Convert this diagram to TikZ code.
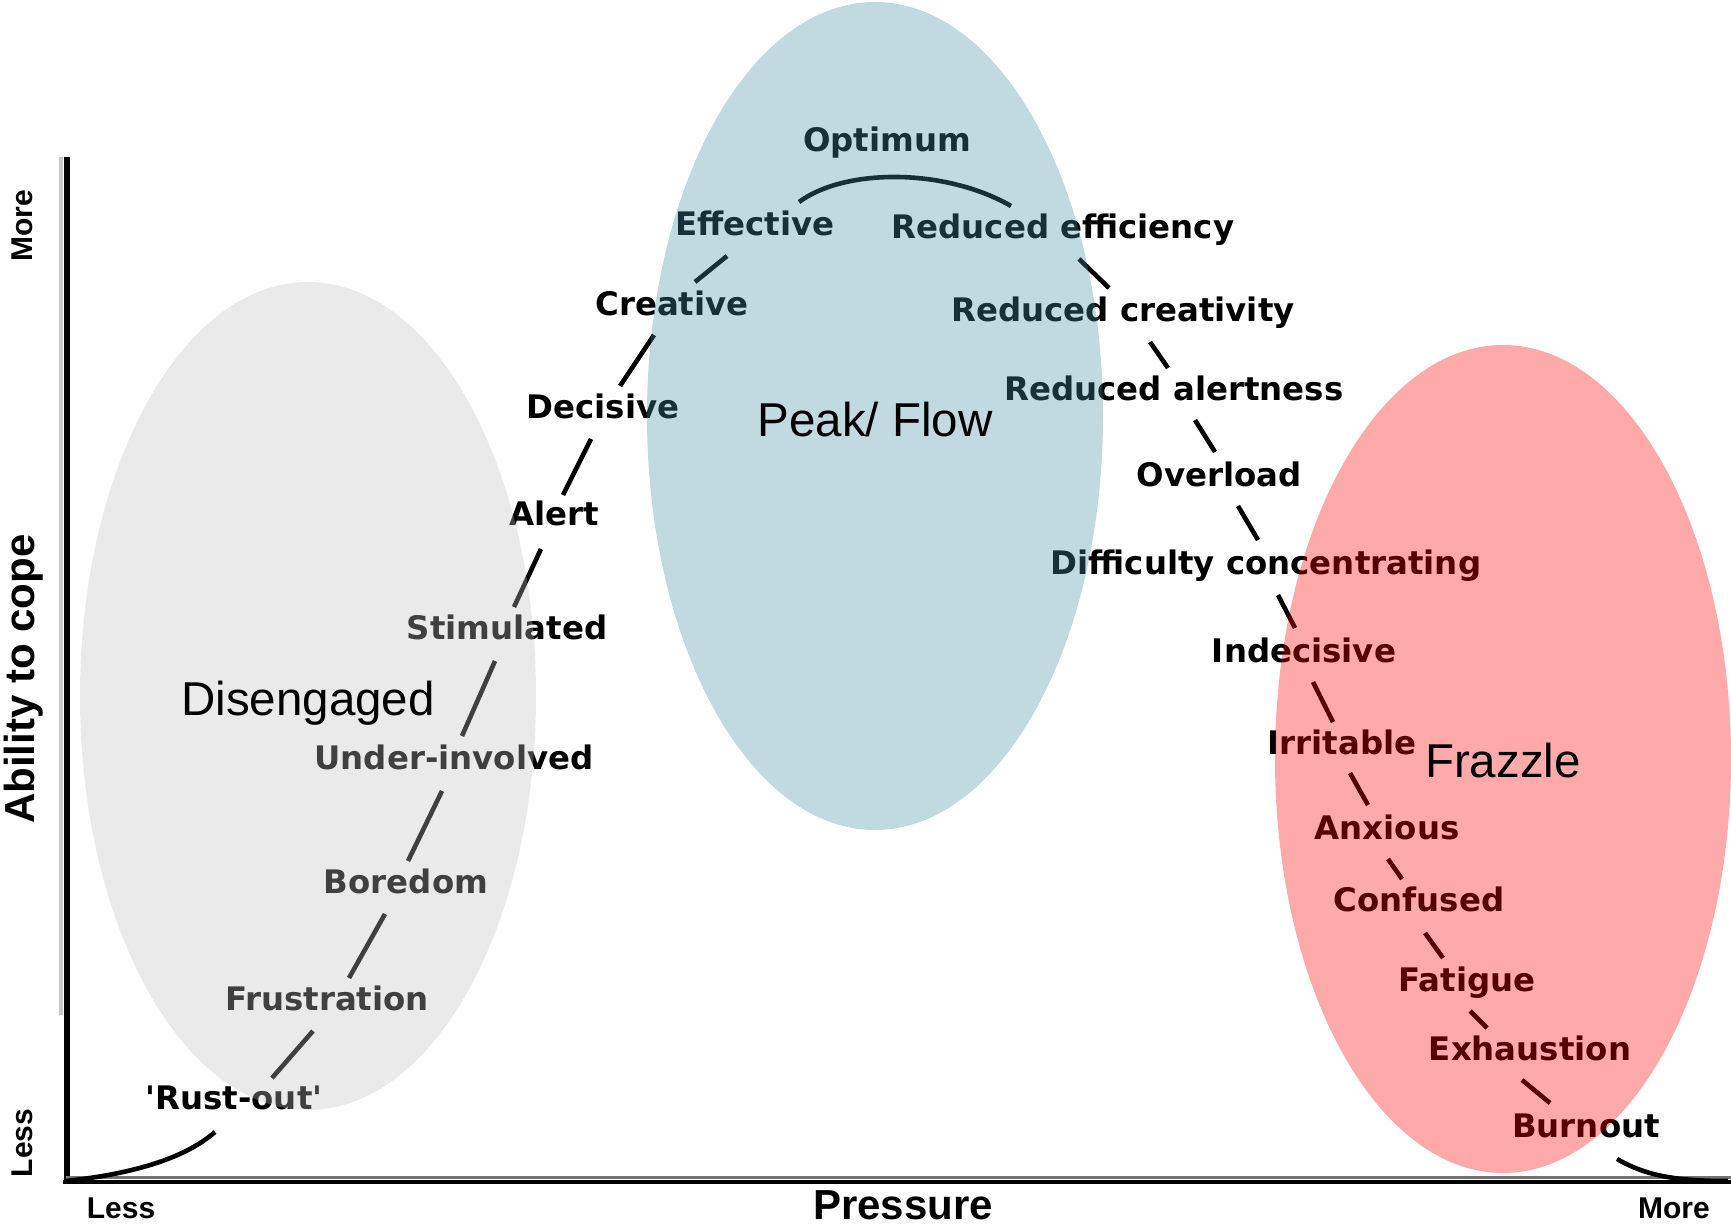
\documentclass[tikz,border=0pt]{standalone}
\usepackage{fontspec}
\newfontfamily\labfnt{DejaVu Sans}
\newfontfamily\bigfnt{Liberation Sans}
\definecolor{pinkc}{RGB}{252,0,0}
\definecolor{bluec}{RGB}{66,144,162}
\definecolor{grayc}{RGB}{192,192,192}
\definecolor{shadow}{RGB}{200,200,200}
\tikzset{
  lbl/.style={font=\labfnt\bfseries\fontsize{16.2}{18}\selectfont, inner sep=0pt, text height=11.8pt, text depth=0pt, text=black},
  zone/.style={font=\bigfnt\fontsize{23.75}{26}\selectfont, inner sep=0pt, text height=17pt, text depth=0pt, text=black},
  axtitle/.style={font=\bigfnt\bfseries\fontsize{21}{24}\selectfont, inner sep=0pt, text height=15pt, text depth=0pt},
  axend/.style={font=\bigfnt\bfseries\fontsize{15}{17}\selectfont, inner sep=0pt, text height=10.7pt, text depth=0pt},
  seg/.style={line width=2.3pt, black},
  blob/.style={fill opacity=0.333}
}
\begin{document}
\begin{tikzpicture}[x=0.5pt,y=-0.5pt]
\useasboundingbox (0,0) rectangle (1731,1225);
\fill[white] (0,0) rectangle (1731,1225);
% axes
\draw[shadow, line width=1.6pt] (61,157) -- (61,1015);
\draw[line width=3pt] (66.5,157) -- (66.5,1183);
\draw[line width=2pt] (63,1182) -- (1731,1182);
\draw[black!55, line width=1.5pt] (66,1177.5) -- (1731,1177.5);
% axis labels
\node[axend, rotate=90] (moreY) at (22,226) {More};
\node[axend, rotate=90] (lessY) at (22,1143) {Less};
\node[axtitle, rotate=90] (ability) at (19,679) {Ability to cope};
\node[axend] (lessX) at (121,1208) {Less};
\node[axend] (moreX) at (1674,1208) {More};
\node[axtitle] (press) at (903,1204) {Pressure};
% labels
\node[lbl] (opt) at (887,140) {Optimum};
\node[lbl] (eff) at (755,224) {Effective};
\node[lbl] (reff) at (1063,227) {Reduced efficiency};
\node[lbl] (cre) at (672,304) {Creative};
\node[lbl] (rcre) at (1123,310) {Reduced creativity};
\node[lbl] (dec) at (603,407) {Decisive};
\node[lbl] (ralert) at (1174,389) {Reduced alertness};
\node[lbl] (alert) at (554,514) {Alert};
\node[lbl] (over) at (1219,475) {Overload};
\node[lbl] (stim) at (507,628) {Stimulated};
\node[lbl] (diff) at (1266,563) {Difficulty concentrating};
\node[lbl] (indec) at (1304,651) {Indecisive};
\node[lbl] (under) at (454,758) {Under-involved};
\node[lbl] (irr) at (1342,743) {Irritable};
\node[lbl] (anx) at (1387,828) {Anxious};
\node[lbl] (bore) at (406,882) {Boredom};
\node[lbl] (conf) at (1419,900) {Confused};
\node[lbl] (frus) at (327,999) {Frustration};
\node[lbl] (fat) at (1467,980) {Fatigue};
\node[lbl] (exh) at (1530,1049) {Exhaustion};
\node[lbl] (rust) at (234,1098) {\textquotesingle Rust-out\textquotesingle};
\node[lbl] (burn) at (1586,1126) {Burnout};
% curve segments
\draw[line width=2.3pt] (66,1181) .. controls (150,1172) and (192,1152) .. (215,1132);
\draw[seg] (313,1031) -- (272,1078);
\draw[seg] (385,914) -- (349,978);
\draw[seg] (442,791) -- (408,861);
\draw[seg] (495,661) -- (462,736);
\draw[seg] (541,549) -- (514,607);
\draw[seg] (591,439) -- (563,495);
\draw[seg] (654,335) -- (620,386);
\draw[seg] (727,256) -- (695,282);
\draw[line width=2.3pt] (799,202) .. controls (845,168) and (945,168) .. (1011,206);
\draw[seg] (1079,259) -- (1109,288);
\draw[seg] (1150,342) -- (1168,368);
\draw[seg] (1195,420) -- (1215,452);
\draw[seg] (1238,506) -- (1258,540);
\draw[seg] (1278,595) -- (1295,628);
\draw[seg] (1313,682) -- (1333,722);
\draw[seg] (1350,773) -- (1368,805);
\draw[seg] (1388,859) -- (1402,879);
\draw[seg] (1425,933) -- (1443,958);
\draw[seg] (1470,1011) -- (1487,1028);
\draw[seg] (1522,1080) -- (1550,1103);
\draw[line width=2.3pt] (1617,1159) .. controls (1648,1177) and (1680,1181) .. (1728,1181);
% zones (tinted overlays)
\fill[grayc, blob] (308,696) ellipse [x radius=114pt, y radius=207pt];
\fill[bluec, blob] (875,416) ellipse [x radius=114pt, y radius=207pt];
\fill[pinkc, blob] (1503,759) ellipse [x radius=114pt, y radius=207pt];
% zone labels
\node[zone] (peak) at (875,420) {Peak/ Flow};
\node[zone] (dis) at (308,698) {Disengaged};
\node[zone] (fraz) at (1503,760) {Frazzle};
\end{tikzpicture}
\end{document}
